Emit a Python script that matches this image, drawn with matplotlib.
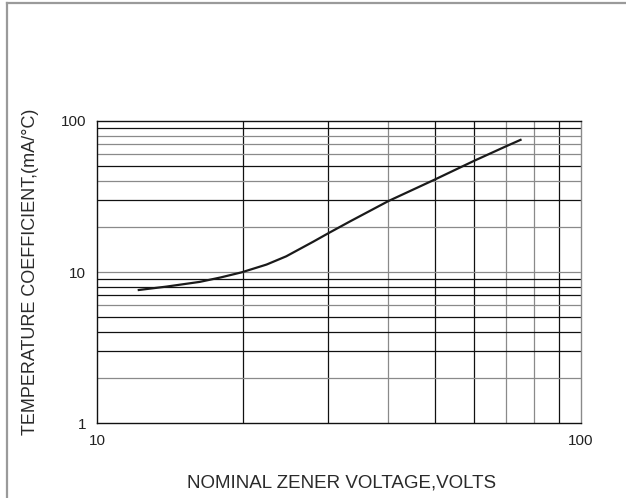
import matplotlib.pyplot as plt
from matplotlib.lines import Line2D

plt.rcParams['font.family'] = ['Liberation Sans', 'DejaVu Sans']

# curve
voltage = [12.2, 13.9, 16.3, 18.0, 19.9, 22.4, 24.6, 28.0, 30.0, 33.3, 40.0, 50.0, 60.0, 70.0, 75.0]
temp_coef = [7.6, 8.0, 8.6, 9.2, 9.95, 11.2, 12.7, 15.9, 18.0, 21.6, 29.5, 41.1, 54.3, 68.0, 75.0]

x_grid = [20, 30, 40, 50, 60, 70, 80, 90]
x_grid_dark = [True, True, False, True, True, False, False, True]
y_grid = [2, 3, 4, 5, 6, 7, 8, 9, 10, 20, 30, 40, 50, 60, 70, 80, 90]
y_grid_dark = [False, True, True, True, False, True, True, True, False,
               False, True, False, True, False, False, False, True]

W, H = 626, 498
fig = plt.figure(figsize=(W / 100, H / 100), dpi=100)
ax = fig.add_axes([97 / W, 1 - 423 / H, (581 - 97) / W, (423 - 121) / H])

ax.set_xscale('log')
ax.set_yscale('log')
ax.set_xlim(10, 100)
ax.set_ylim(1, 100)

for xv, dark in zip(x_grid, x_grid_dark):
    ax.axvline(xv, color='#111111' if dark else '#8a8a8a', lw=0.9, zorder=1)
for yv, dark in zip(y_grid, y_grid_dark):
    ax.axhline(yv, color='#111111' if dark else '#8a8a8a', lw=0.9, zorder=1)

ax.plot(voltage, temp_coef, color='#1a1a1a', lw=1.6, zorder=3)

ax.set_xticks([10, 100])
ax.set_xticklabels(['10', '100'])
ax.set_yticks([1, 10, 100])
ax.set_yticklabels(['1', '10', '100'])
ax.minorticks_off()
ax.tick_params(length=0, labelsize=11, colors='#222222')
ax.tick_params(axis='x', pad=8)
ax.tick_params(axis='y', pad=8)

for side in ['left', 'bottom', 'top']:
    ax.spines[side].set_color('#111111')
    ax.spines[side].set_linewidth(1.0)
ax.spines['right'].set_color('#8a8a8a')
ax.spines['right'].set_linewidth(1.0)

fig.text(342 / W, 1 - 483 / H, 'NOMINAL ZENER VOLTAGE,VOLTS',
         ha='center', va='center', fontsize=13.5, color='#2a2a2a')
fig.text(31 / W, 1 - 272 / H, 'TEMPERATURE COEFFICIENT,(mA/°C)',
         ha='center', va='center', rotation=90, fontsize=13, color='#2a2a2a')

# grey frame around the figure
fig.add_artist(Line2D([7 / W, 7 / W], [0, 1 - 3 / H], color='#9a9a9a', lw=1.6))
fig.add_artist(Line2D([7 / W, 1], [1 - 3 / H, 1 - 3 / H], color='#9a9a9a', lw=1.6))

fig.savefig('out.png', dpi=100)
